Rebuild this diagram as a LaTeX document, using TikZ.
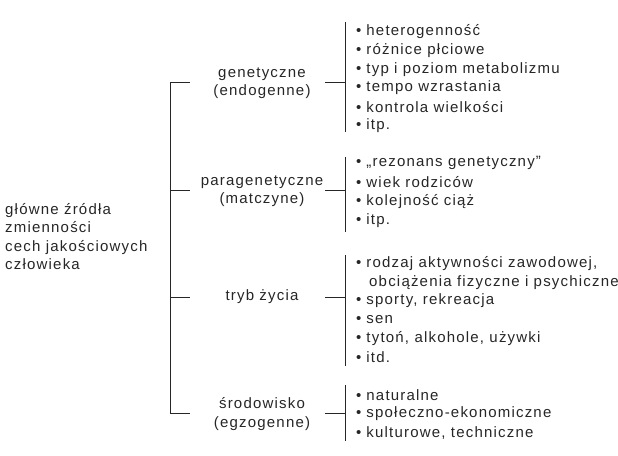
\documentclass[tikz,border=0pt]{standalone}
\usepackage{fontspec}
\setmainfont{Liberation Sans}[LetterSpace=8]
\begin{document}
\begin{tikzpicture}[x=1pt,y=-1pt,
  every node/.style={font=\fontsize{15}{18.5}\selectfont,text=black!85,inner sep=0pt},
  ln/.style={draw=black!85,line width=0.9pt},
  item/.style={anchor=west},
  cat/.style={align=center}]
\useasboundingbox (0,0) rectangle (618,455);
\clip (0,0) rectangle (618,455);
\node[align=left,anchor=north west] (root) at (5,203) {główne źródła\\zmienności\\cech jakościowych\\człowieka};
\coordinate (t1) at (170,82); \coordinate (t4) at (170,413);
\draw[ln] (t1) -- (t4);
\node[cat] (c1) at (262,83) {genetyczne\\(endogenne)};
\node[cat] (c2) at (262,191) {paragenetyczne\\(matczyne)};
\node[cat] (c3) at (262,297) {tryb życia};
\node[cat] (c4) at (262,414) {środowisko\\(egzogenne)};
\foreach \y/\a/\b in {82/22/132, 190/157/232, 297/255/366, 413/385/441}{
  \draw[ln] (170,\y) -- (190,\y);
  \draw[ln] (325,\y) -- (345,\y);
  \draw[ln] (345,\a) -- (345,\b);
}
\def\bul{\textbullet\hspace{5pt}}
\foreach \y/\t in {32/heterogenność,51/różnice płciowe,70/typ i poziom metabolizmu,88/tempo wzrastania,107/kontrola wielkości,126/itp.,
 163/„rezonans genetyczny”,182/wiek rodziców,202/kolejność ciąż,221/itp.,
 264/{rodzaj aktywności zawodowej,},301/{sporty, rekreacja},320/sen,339/{tytoń, alkohole, używki},357/itd.,
 395/naturalne,414/społeczno-ekonomiczne,433/{kulturowe, techniczne}}{
  \node[item] at (356,\y) {\bul\t};
}
\node[item] at (369,283) {obciążenia fizyczne i psychiczne};
\end{tikzpicture}
\end{document}
